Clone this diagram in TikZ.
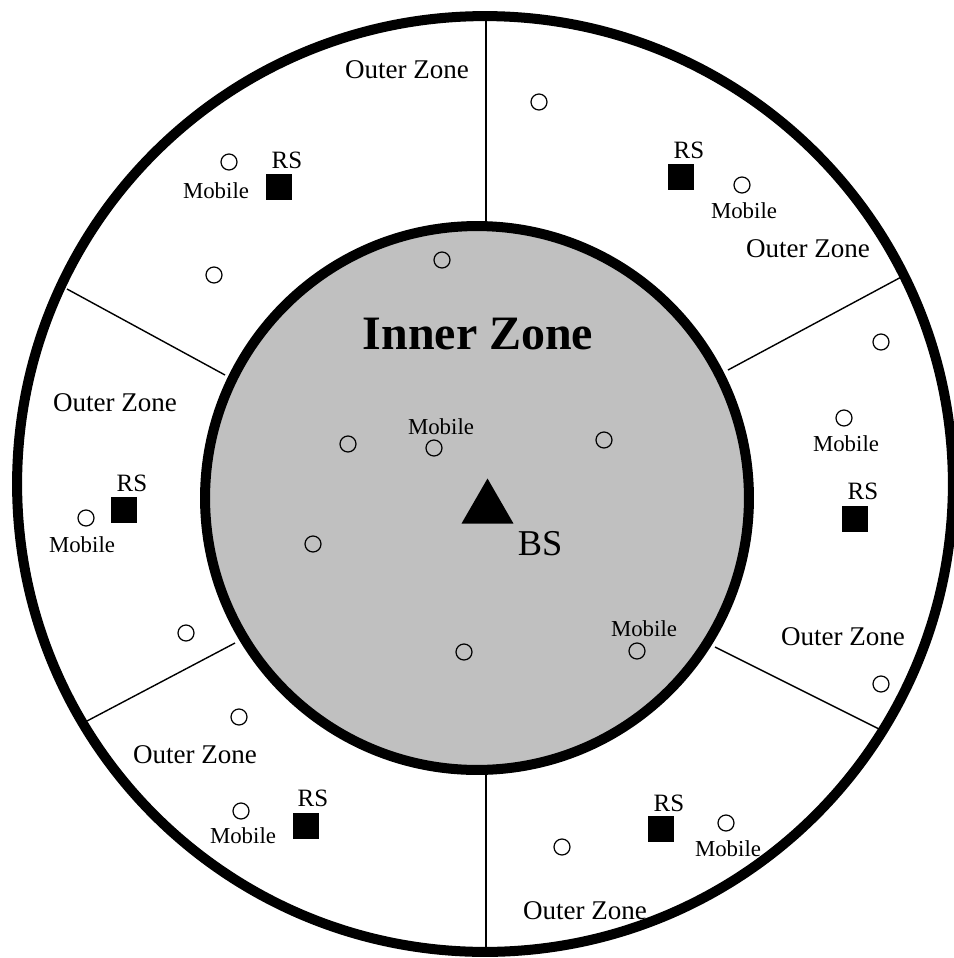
\documentclass[tikz,border=0pt]{standalone}
\usepackage{fontspec}
\setmainfont{Liberation Serif}
\usetikzlibrary{shapes.geometric}
\definecolor{zonefill}{HTML}{C0C0C0}
\definecolor{zoneedge}{HTML}{000000}

\begin{document}
\begin{tikzpicture}[x=0.02cm, y=-0.02cm,
  zone/.style={draw=zoneedge, line width=5.7pt},
  divider/.style={draw=zoneedge, line width=0.8pt},
  mobile/.style={circle, draw=black, line width=0.7pt, minimum size=0.32cm, inner sep=0pt},
  relay/.style={rectangle, fill=black, minimum size=0.53cm, inner sep=0pt},
  bsnode/.style={regular polygon, regular polygon sides=3, fill=black, minimum size=1.2cm, inner sep=0pt},
  lab/.style={font=\fontsize{13}{13}\selectfont, inner sep=0pt},
  rslab/.style={font=\fontsize{14.2}{14}\selectfont, inner sep=0pt},
  zonelab/.style={font=\fontsize{15.4}{16}\selectfont, inner sep=0pt},
]
\useasboundingbox (0,0) rectangle (954,958);
\coordinate (outerc) at (485,484);
\coordinate (innerc) at (477,498);
% sector borders of the outer zone
\draw[divider] (486,16) -- (486,227);
\draw[divider] (486,770) -- (486,952);
\draw[divider] (67,289) -- (225,375);
\draw[divider] (728,370) -- (905,275);
\draw[divider] (715,647) -- (885,732);
\draw[divider] (87,721) -- (235,643);
% cell edge and inner zone
\draw[zone] (outerc) circle [radius=9.36cm];
\draw[zone, fill=zonefill] (innerc) circle [radius=5.44cm];

% inner zone: base station and mobiles
\node[font=\bfseries\fontsize{27.3}{28}\selectfont, inner sep=0pt] (l_inner) at (478,334) {Inner Zone};
\node[bsnode] (bs) at (487.5,508.5) {};
\node[font=\fontsize{20.7}{21}\selectfont, inner sep=0pt] (l_bs) at (540,544) {BS};
\node[mobile] (m_in1) at (348,444) {};
\node[mobile] (m_in2) at (434,448) {};
\node[mobile] (m_in3) at (604,440) {};
\node[mobile] (m_in4) at (313,544) {};
\node[mobile] (m_in5) at (464,652) {};
\node[mobile] (m_in6) at (637,651) {};
\node[lab] (l_in2) at (441,427) {Mobile};
\node[lab] (l_in6) at (644,629) {Mobile};

% upper left sector
\node[zonelab] (z_ul) at (407,70) {Outer Zone};
\node[relay] (rs_ul) at (279,187) {};
\node[rslab] (l_rs_ul) at (287,160) {RS};
\node[mobile] (m_ul1) at (229,162) {};
\node[lab] (l_ul1) at (216,191) {Mobile};
\node[mobile] (m_ul2) at (214,275) {};
\node[mobile] (m_ul3) at (442,260) {};

% upper right sector
\node[zonelab] (z_ur) at (808,249) {Outer Zone};
\node[relay] (rs_ur) at (681,177) {};
\node[rslab] (l_rs_ur) at (689,150) {RS};
\node[mobile] (m_ur1) at (742,185) {};
\node[lab] (l_ur1) at (744,211) {Mobile};
\node[mobile] (m_ur2) at (539,102) {};

% right sector
\node[zonelab] (z_r) at (843,637) {Outer Zone};
\node[relay] (rs_r) at (855,519) {};
\node[rslab] (l_rs_r) at (863,491) {RS};
\node[mobile] (m_r1) at (844,418) {};
\node[lab] (l_r1) at (846,444) {Mobile};
\node[mobile] (m_r2) at (881,342) {};
\node[mobile] (m_r3) at (881,684) {};

% lower right sector
\node[zonelab] (z_lr) at (585,911) {Outer Zone};
\node[relay] (rs_lr) at (661,829) {};
\node[rslab] (l_rs_lr) at (669,803) {RS};
\node[mobile] (m_lr1) at (726,823) {};
\node[lab] (l_lr1) at (728,849) {Mobile};
\node[mobile] (m_lr2) at (562,847) {};

% lower left sector
\node[zonelab] (z_ll) at (195,755) {Outer Zone};
\node[relay] (rs_ll) at (306,826) {};
\node[rslab] (l_rs_ll) at (313,798) {RS};
\node[mobile] (m_ll1) at (241,811) {};
\node[lab] (l_ll1) at (243,836) {Mobile};
\node[mobile] (m_ll2) at (239,717) {};
\node[mobile] (m_ll3) at (186,633) {};

% left sector
\node[zonelab] (z_l) at (115,403) {Outer Zone};
\node[relay] (rs_l) at (124,510) {};
\node[rslab] (l_rs_l) at (132,483) {RS};
\node[mobile] (m_l1) at (86,518) {};
\node[lab] (l_l1) at (82,545) {Mobile};
\end{tikzpicture}
\end{document}
